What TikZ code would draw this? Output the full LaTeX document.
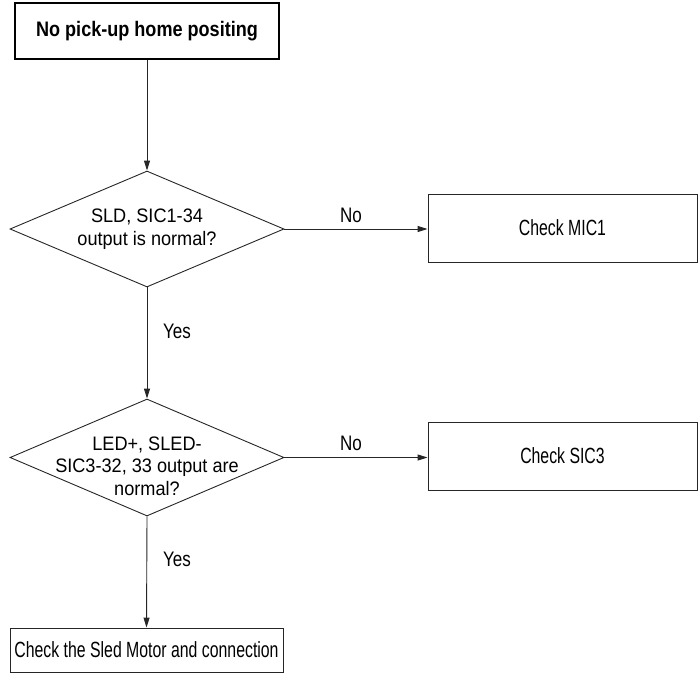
\documentclass[tikz,border=0pt]{standalone}
\usepackage{fontspec}
\setmainfont{Liberation Sans}
\newfontfamily\fdiamond{Liberation Sans}[FakeStretch=0.93]
\newfontfamily\flab{Liberation Sans}[FakeStretch=0.81]
\newfontfamily\fchk{Liberation Sans}[FakeStretch=0.72]
\newfontfamily\ftopb{Liberation Sans}[FakeStretch=0.86]
\usetikzlibrary{shapes.geometric,arrows.meta}
\begin{document}
\begin{tikzpicture}[x=1pt,y=-1pt,
  conn/.style={draw=black!85,line width=0.9pt,-{Triangle[length=10pt,width=6pt]}},
  topbox/.style={draw=black,line width=1.6pt,minimum width=264pt,minimum height=56pt,inner sep=0pt,
    font=\ftopb\bfseries\fontsize{21}{24}\selectfont},
  chkbox/.style={draw=black!85,line width=0.9pt,inner sep=0pt,font=\fchk\fontsize{22}{24}\selectfont},
  decision/.style={draw=black!85,line width=0.9pt,diamond,inner sep=0pt,minimum width=274pt,minimum height=116pt},
  dtext/.style={align=center,inner sep=0pt,font=\fdiamond\fontsize{19.5}{22.5}\selectfont},
  lab/.style={inner sep=0pt,font=\flab\fontsize{21}{22}\selectfont}]
\useasboundingbox (0,0) rectangle (698,675);
\node[topbox] (top) at (147,31) {No pick-up home positing};
\node[decision] (d1) at (147,229) {};
\node[dtext] (t1) at (147,229) {SLD, SIC1-34\\output is normal?};
\node[chkbox,minimum width=269pt,minimum height=68pt] (b1) at (562.5,228) {Check MIC1};
\node[decision,minimum height=117pt] (d2) at (147,457.5) {};
\node[dtext] (t2) at (147,466) {LED+, SLED-\\SIC3-32, 33 output are\\normal?};
\node[chkbox,minimum width=269pt,minimum height=68pt] (b2) at (562.5,456) {Check SIC3};
\node[chkbox,minimum width=273pt,minimum height=44pt] (b3) at (146.5,650) {Check the Sled Motor and connection};
\draw[conn] (top.south) -- (d1.north);
\draw[conn] (d1.east) -- (d1.east -| b1.west);
\draw[conn] (d1.south) -- (d2.north);
\draw[conn] (d2.east) -- (d2.east -| b2.west);
\draw[conn] (d2.south) -- (b3.north);
\node[lab] (no1) at (351,215) {No};
\node[lab] (no2) at (351,443) {No};
\node[lab] (yes1) at (177,331) {Yes};
\node[lab] (yes2) at (177,559) {Yes};
\end{tikzpicture}
\end{document}
